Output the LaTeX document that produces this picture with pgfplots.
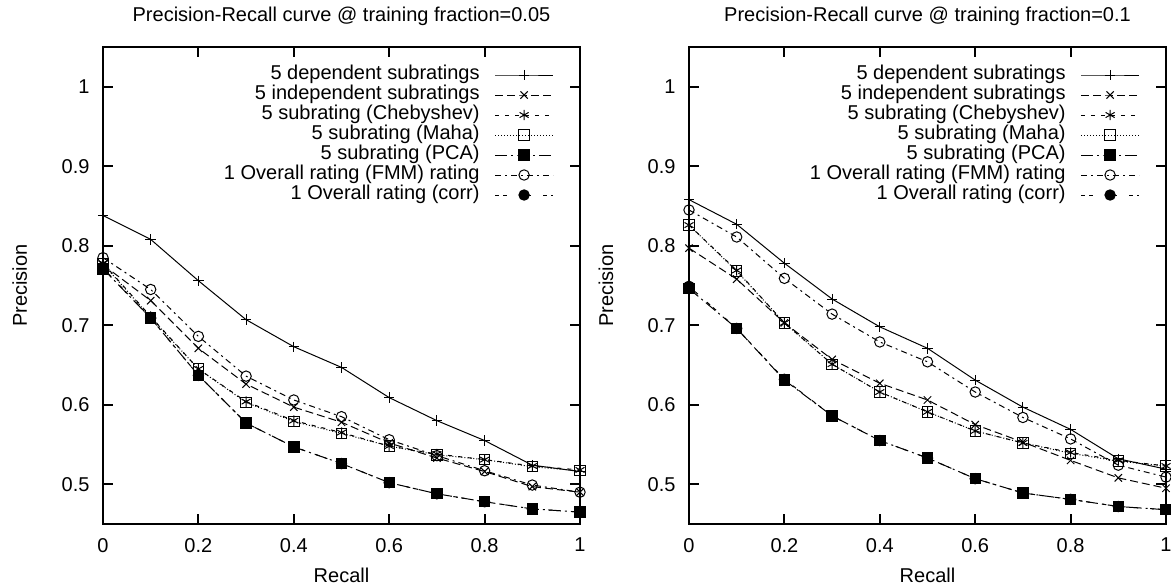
\documentclass[border=0pt]{standalone}
\usepackage{fontspec}
\setmainfont{Liberation Sans}
\usepackage{pgfplots}
\usepackage{pgfplotstable}
\pgfplotsset{compat=1.18}

\pgfplotstableread{
x   dep   ind   cheb  maha  pca   fmm   corr
0   0.838 0.776 0.778 0.777 0.771 0.785 0.772
0.1 0.808 0.731 0.711 0.710 0.709 0.745 0.709
0.2 0.756 0.671 0.645 0.645 0.637 0.686 0.637
0.3 0.707 0.626 0.604 0.603 0.577 0.636 0.577
0.4 0.673 0.597 0.580 0.579 0.547 0.606 0.547
0.5 0.647 0.578 0.565 0.564 0.526 0.585 0.526
0.6 0.609 0.552 0.548 0.548 0.502 0.556 0.502
0.7 0.580 0.533 0.538 0.537 0.488 0.536 0.488
0.8 0.555 0.516 0.531 0.531 0.478 0.517 0.478
0.9 0.524 0.497 0.523 0.522 0.469 0.499 0.469
1   0.516 0.490 0.518 0.517 0.465 0.490 0.465
}\lefttab

\pgfplotstableread{
x   dep   ind   cheb  maha  pca   fmm   corr
0   0.858 0.797 0.826 0.826 0.746 0.845 0.749
0.1 0.827 0.758 0.769 0.768 0.696 0.811 0.696
0.2 0.778 0.703 0.703 0.703 0.631 0.759 0.632
0.3 0.733 0.657 0.651 0.651 0.586 0.714 0.586
0.4 0.698 0.627 0.616 0.616 0.555 0.679 0.555
0.5 0.671 0.606 0.591 0.591 0.533 0.654 0.533
0.6 0.631 0.575 0.567 0.567 0.507 0.616 0.507
0.7 0.597 0.553 0.552 0.552 0.489 0.584 0.489
0.8 0.569 0.530 0.540 0.539 0.481 0.557 0.481
0.9 0.532 0.508 0.530 0.529 0.472 0.524 0.472
1   0.519 0.495 0.523 0.523 0.468 0.509 0.468
}\righttab

\pgfplotsset{
  prstyle/.style={
    scale only axis, width=238.5pt, height=238.5pt,
    xmin=0, xmax=1, ymin=0.45, ymax=1.05,
    xtick={0,0.2,0.4,0.6,0.8,1}, ytick={0.5,0.6,0.7,0.8,0.9,1},
    /pgf/number format/assume math mode=true,
    tick align=inside, major tick length=5pt,
    axis line style={line width=1pt},
    every tick/.style={black, line width=1pt},
    xticklabel style={yshift=-3.5pt},
    yticklabel style={xshift=-3.2pt},
    every axis title/.style={at={(0.5,1)}, anchor=base, yshift=13pt},
    every axis x label/.style={at={(axis description cs:0.5,0)}, anchor=base, yshift=-29pt},
    every axis y label/.style={at={([xshift=-38pt]axis description cs:0,0.5)}, rotate=90, anchor=base},
    xlabel={Recall}, ylabel={Precision},
    clip=false,
    every axis legend/.style={draw=none, fill=none, at={(1,1)}, anchor=north east,
      xshift=-13pt, yshift=-8.8pt, inner sep=0pt, row sep=0pt, column sep=7.5pt,
      nodes={inner sep=0pt, text height=7.3pt, text depth=2.7pt}},
    legend cell align=right,
    legend plot pos=right,
    legend image code/.code={\draw[mark repeat=2,mark phase=2,##1] plot coordinates {(0pt,0pt) (14.5pt,0pt) (29pt,0pt)};},
    mark size=2.6pt,
  },
  s1/.style={black, line width=0.5pt, solid, mark=+, mark options={solid}},
  s2/.style={black, line width=0.5pt, dash pattern=on 4pt off 2pt, mark=x, mark options={solid}},
  s3/.style={black, line width=0.5pt, dash pattern=on 2pt off 3pt, mark=asterisk, mark options={solid}},
  s4/.style={black, line width=0.5pt, dash pattern=on 0.5pt off 1pt, mark=square, mark options={solid}},
  s5/.style={black, line width=0.5pt, dash pattern=on 6pt off 2pt on 1pt off 2pt, mark=square*, mark options={solid}},
  s6/.style={black, line width=0.5pt, dash pattern=on 3pt off 2pt on 1pt off 2pt, mark=o, mark options={solid}},
  s7/.style={black, line width=0.5pt, dash pattern=on 2pt off 2pt on 2pt off 6pt, mark=*, mark options={solid}},
}

\begin{document}
\begin{tikzpicture}
\begin{axis}[prstyle, title={Precision-Recall curve @ training fraction=0.05}]
\addplot[s1] table[x=x,y=dep]{\lefttab}; \addlegendentry{5 dependent subratings}
\addplot[s2] table[x=x,y=ind]{\lefttab}; \addlegendentry{5 independent subratings}
\addplot[s3] table[x=x,y=cheb]{\lefttab}; \addlegendentry{5 subrating (Chebyshev)}
\addplot[s4] table[x=x,y=maha]{\lefttab}; \addlegendentry{5 subrating (Maha)}
\addplot[s5] table[x=x,y=pca]{\lefttab}; \addlegendentry{5 subrating (PCA)}
\addplot[s6] table[x=x,y=fmm]{\lefttab}; \addlegendentry{1 Overall rating (FMM) rating}
\addplot[s7] table[x=x,y=corr]{\lefttab}; \addlegendentry{1 Overall rating (corr)}
\end{axis}
\begin{axis}[prstyle, at={(293pt,0pt)}, title={Precision-Recall curve @ training fraction=0.1}]
\addplot[s1] table[x=x,y=dep]{\righttab}; \addlegendentry{5 dependent subratings}
\addplot[s2] table[x=x,y=ind]{\righttab}; \addlegendentry{5 independent subratings}
\addplot[s3] table[x=x,y=cheb]{\righttab}; \addlegendentry{5 subrating (Chebyshev)}
\addplot[s4] table[x=x,y=maha]{\righttab}; \addlegendentry{5 subrating (Maha)}
\addplot[s5] table[x=x,y=pca]{\righttab}; \addlegendentry{5 subrating (PCA)}
\addplot[s6] table[x=x,y=fmm]{\righttab}; \addlegendentry{1 Overall rating (FMM) rating}
\addplot[s7] table[x=x,y=corr]{\righttab}; \addlegendentry{1 Overall rating (corr)}
\end{axis}
\pgfresetboundingbox
\path[use as bounding box] (-51.5pt,-32pt) rectangle (534pt,262pt);
\end{tikzpicture}
\end{document}
